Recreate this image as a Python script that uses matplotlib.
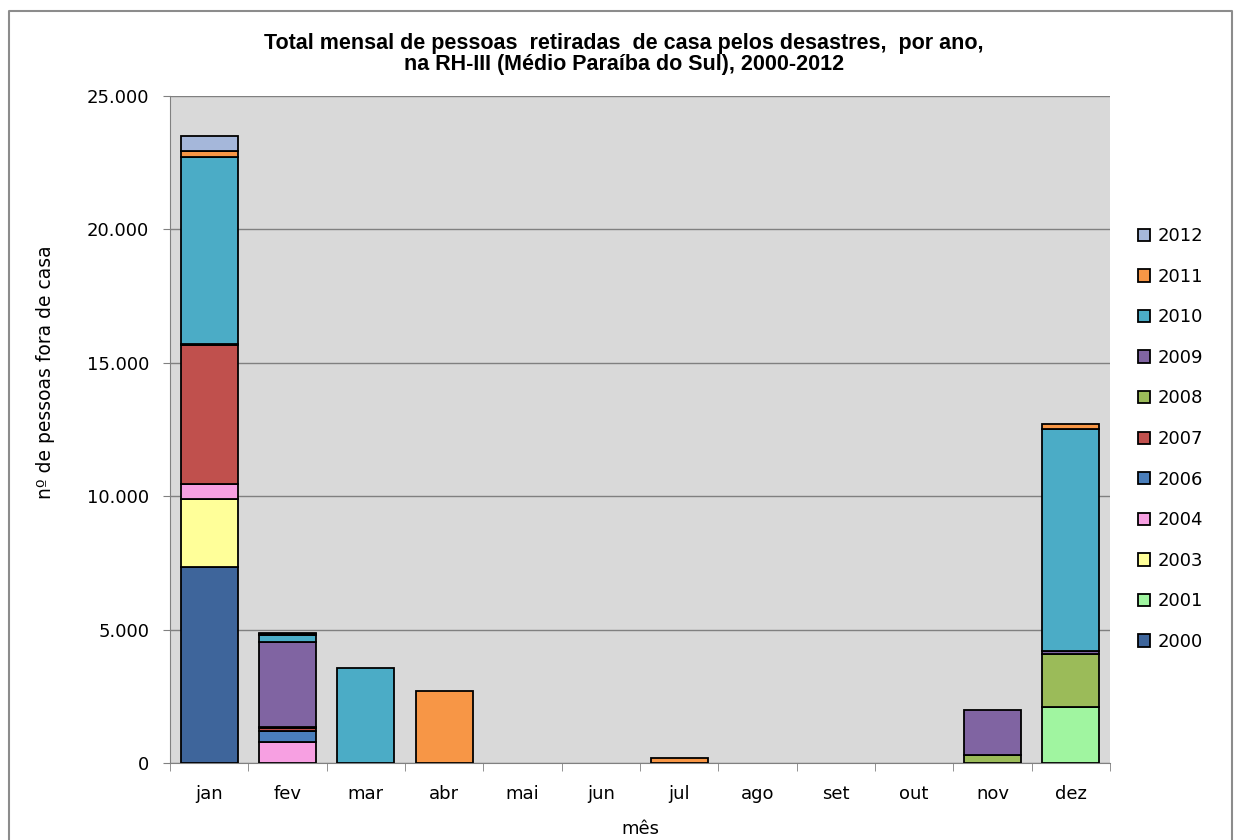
"""Total mensal de pessoas retiradas de casa, RH-III, 2000-2012."""
import matplotlib
matplotlib.use("Agg")
import matplotlib.pyplot as plt
import numpy as np
from matplotlib.lines import Line2D
from matplotlib.ticker import FuncFormatter, MultipleLocator

plt.rcParams["font.family"] = ["DejaVu Sans"]

MONTHS = ["jan", "fev", "mar", "abr", "mai", "jun", "jul", "ago", "set", "out", "nov", "dez"]
YEARS = ["2000", "2001", "2003", "2004", "2006", "2007", "2008", "2009", "2010", "2011", "2012"]

# values per year, one per month
v2000 = [7350, 0, 0, 0, 0, 0, 0, 0, 0, 0, 0, 0]
v2001 = [0, 0, 0, 0, 0, 0, 0, 0, 0, 0, 0, 2100]
v2003 = [2550, 0, 0, 0, 0, 0, 0, 0, 0, 0, 0, 0]
v2004 = [560, 780, 0, 0, 0, 0, 0, 0, 0, 0, 0, 0]
v2006 = [0, 430, 0, 0, 0, 0, 0, 0, 0, 0, 0, 0]
v2007 = [5200, 90, 0, 0, 0, 0, 0, 0, 0, 0, 0, 0]
v2008 = [0, 40, 0, 0, 0, 0, 0, 0, 0, 0, 300, 2000]
v2009 = [60, 3200, 0, 0, 0, 0, 0, 0, 0, 0, 1690, 80]
v2010 = [6990, 265, 3560, 0, 0, 0, 0, 0, 0, 0, 0, 8330]
v2011 = [220, 40, 0, 2680, 0, 0, 170, 0, 0, 0, 0, 185]
v2012 = [565, 30, 0, 0, 0, 0, 0, 0, 0, 0, 0, 0]

SERIES = [v2000, v2001, v2003, v2004, v2006, v2007, v2008, v2009, v2010, v2011, v2012]
COLORS = ["#3E659B", "#A0F5A0", "#FFFF99", "#F7A0E2", "#4A7EBB", "#C0504D",
          "#9BBB59", "#8064A2", "#4BACC6", "#F79646", "#A5B7DA"]

W, H = 1238, 840
fig = plt.figure(figsize=(W / 100, H / 100), dpi=100)
# outer chart border (left, top, right)
fig.add_artist(Line2D([9 / W, 9 / W, 1232 / W, 1232 / W], [0, 1 - 11 / H, 1 - 11 / H, 0],
                      transform=fig.transFigure, color="#8c8c8c", linewidth=1.5))
ax = fig.add_axes([170 / W, 1 - 763 / H, 940 / W, 667 / H])
ax.set_facecolor("#D9D9D9")

x = np.arange(len(MONTHS))
bottom = np.zeros(len(MONTHS))
handles = []
for year, vals, color in zip(YEARS, SERIES, COLORS):
    vals = np.array(vals, dtype=float)
    nz = vals > 0
    h = ax.bar(x[nz], vals[nz], width=0.73, bottom=bottom[nz], color=color,
               edgecolor="black", linewidth=1.3, label=year, zorder=3)
    handles.append(h)
    bottom += vals

ax.set_xlim(-0.5, len(MONTHS) - 0.5)
ax.set_ylim(0, 25000)
ax.yaxis.set_major_locator(MultipleLocator(5000))
ax.yaxis.set_major_formatter(FuncFormatter(lambda v, p: f"{int(v):,}".replace(",", ".")))
ax.grid(axis="y", color="#808080", linewidth=1, zorder=0)
ax.set_xticks(x)
ax.set_xticklabels(MONTHS)
ax.set_xticks(np.arange(-0.5, len(MONTHS)), minor=True)
ax.tick_params(axis="x", which="major", length=0, labelsize=13, pad=16)
ax.tick_params(axis="x", which="minor", length=6, color="#808080")
ax.tick_params(axis="y", labelsize=13, length=5, color="#808080", pad=10)
for side in ["top", "right"]:
    ax.spines[side].set_visible(False)
ax.spines["left"].set_color("#808080")
ax.spines["bottom"].set_color("#808080")

fig.text(46 / W, 1 - 372 / H, "nº de pessoas fora de casa", rotation=90,
         ha="center", va="center", fontsize=13.5)
fig.text(640 / W, 1 - 829 / H, "mês", ha="center", va="center", fontsize=13)
fig.text(624 / W, 1 - 54 / H,
         "Total mensal de pessoas  retiradas  de casa pelos desastres,  por ano,\n"
         "na RH-III (Médio Paraíba do Sul), 2000-2012",
         ha="center", va="center", fontsize=15.5, fontweight="bold",
         family=["Liberation Sans"], linespacing=1.0)

ax.legend(handles[::-1], YEARS[::-1], loc="center left",
          bbox_to_anchor=(1138 / W, 1 - 439 / H), bbox_transform=fig.transFigure,
          frameon=False, fontsize=13, labelspacing=1.25, handlelength=0.67,
          handleheight=0.67, handletextpad=0.4, borderpad=0, borderaxespad=0)

fig.savefig("out.png", dpi=100)
